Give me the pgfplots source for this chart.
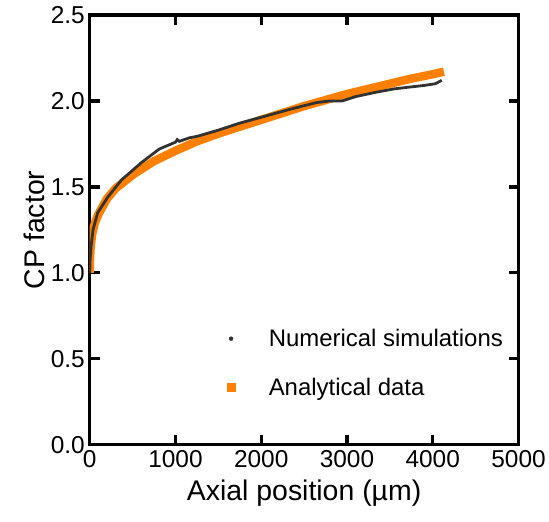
\documentclass[border=0pt]{standalone}
\usepackage{fontspec}
\setmainfont{Liberation Sans}
\usepackage{pgfplots}
\pgfplotsset{compat=1.18}
\definecolor{simgray}{RGB}{50,50,50}
\definecolor{anaorange}{RGB}{255,128,0}

\begin{document}
\begin{tikzpicture}
\begin{axis}[
  width=430pt,height=431pt,scale only axis,
  xmin=0,xmax=5000,ymin=0,ymax=2.5,
  xtick={0,1000,...,5000},ytick={0,0.5,...,2.5},
  line width=3.3pt,
  tick align=inside,major tick length=10pt,
  major tick style={black,line width=3.3pt},
  axis line style={line width=3.3pt},
  tick label style={font=\fontsize{24.5}{24.5}\selectfont},
  /pgf/number format/assume math mode=true,
  x tick label style={/pgf/number format/1000 sep={}},
  y tick label style={/pgf/number format/.cd,fixed,fixed zerofill,precision=1},
  xticklabel shift=1pt,yticklabel shift=0pt,
  xlabel={Axial position (µm)},ylabel={CP factor},
  label style={font=\fontsize{28.5}{28.5}\selectfont},
  xlabel style={yshift=-4pt},ylabel style={yshift=-2pt},
  legend style={draw=none,fill=none,at={(axis cs:1550,0.475)},anchor=west,
    font=\fontsize{24}{24}\selectfont,row sep=26pt},
  legend cell align=left,
]
\addplot[anaorange,line width=8.5pt,line cap=butt,forget plot] coordinates {
(0,1.00)(3,1.08)(10,1.15)(30,1.23)(60,1.29)(100,1.34)(200,1.43)(300,1.49)
(500,1.57)(750,1.65)(1000,1.71)(1250,1.765)(1500,1.81)(1750,1.85)(2000,1.89)
(2250,1.93)(2500,1.97)(2750,2.005)(3000,2.04)(3250,2.07)(3500,2.10)
(3750,2.13)(4000,2.155)(4130,2.17)};
\addplot[simgray,line width=2.8pt,forget plot] coordinates {
(0,1.00)(5,1.08)(15,1.15)(38,1.25)(93,1.35)(210,1.44)(370,1.54)(600,1.64)
(810,1.72)(1000,1.76)(1020,1.775)(1045,1.765)(1160,1.785)(1260,1.795)
(1500,1.83)(1744,1.87)(2000,1.905)(2326,1.95)(2640,1.99)(2800,2.00)
(2945,2.00)(3100,2.025)(3333,2.05)(3550,2.07)(3720,2.08)(3900,2.09)
(4031,2.10)(4105,2.12)};
\addlegendimage{only marks,mark=*,mark size=2pt,line width=0.4pt,simgray}
\addlegendentry{\hspace*{32pt}Numerical simulations}
\addlegendimage{only marks,mark=square*,mark size=3.8pt,line width=0.4pt,anaorange,draw=none}
\addlegendentry{\hspace*{32pt}Analytical data}
\end{axis}
\path ([xshift=-90pt,yshift=-77pt]current axis.south west) rectangle ([xshift=29pt,yshift=15pt]current axis.north east);
\end{tikzpicture}
\end{document}
